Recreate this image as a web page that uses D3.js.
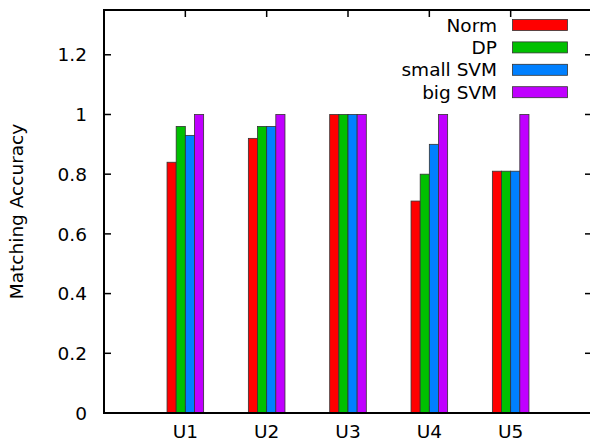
<!DOCTYPE html>
<html>
<head>
<meta charset="utf-8">
<script src="https://cdn.jsdelivr.net/npm/d3@7"></script>
<style>
  body { margin: 0; background: #fff; }
  text { font-family: "DejaVu Sans", sans-serif; font-size: 18.5px; fill: #000; }
</style>
</head>
<body>
<div id="chart"></div>
<script>
// chart data
const categories = ['U1', 'U2', 'U3', 'U4', 'U5'];
const seriesNames = ['Norm', 'DP', 'small SVM', 'big SVM'];
const seriesColors = ['#ff0000', '#00c000', '#0080ff', '#c000ff'];
const normValues = [0.84, 0.92, 1.0, 0.71, 0.81];
const dpValues = [0.96, 0.96, 1.0, 0.80, 0.81];
const smallSvmValues = [0.93, 0.96, 1.0, 0.90, 0.81];
const bigSvmValues = [1.0, 1.0, 1.0, 1.0, 1.0];
const yTicks = [0, 0.2, 0.4, 0.6, 0.8, 1, 1.2];

const series = [normValues, dpValues, smallSvmValues, bigSvmValues];

const width = 590, height = 445;
const plotLeft = 104, plotTop = 10, plotBottom = 413, plotRight = 592;

const svg = d3.select('#chart')
    .append('svg')
    .attr('width', width)
    .attr('height', height);

// categories sit at 1..5 on a 0..6 axis
const x = d3.scaleLinear().domain([0, 6]).range([plotLeft, plotRight]);
const y = d3.scaleLinear().domain([0, 1.35]).range([plotBottom, plotTop]);

const barW = 0.1125;
const tickLen = 7;

// ticks (all four sides, pointing inwards)
const tickG = svg.append('g').attr('stroke', '#000').attr('stroke-width', 1.5);
yTicks.forEach(t => {
    tickG.append('line').attr('x1', plotLeft).attr('x2', plotLeft + tickLen)
        .attr('y1', y(t)).attr('y2', y(t));
    tickG.append('line').attr('x1', plotRight - tickLen).attr('x2', plotRight)
        .attr('y1', y(t)).attr('y2', y(t));
});
categories.forEach((c, i) => {
    tickG.append('line').attr('x1', x(i + 1)).attr('x2', x(i + 1))
        .attr('y1', plotTop).attr('y2', plotTop + tickLen);
    tickG.append('line').attr('x1', x(i + 1)).attr('x2', x(i + 1))
        .attr('y1', plotBottom).attr('y2', plotBottom - tickLen);
});

// bars
series.forEach((vals, s) => {
    svg.append('g')
        .selectAll('rect')
        .data(vals)
        .enter()
        .append('rect')
        .attr('x', (d, i) => x(i + 1 + (s - 2) * barW))
        .attr('width', x(barW) - x(0))
        .attr('y', d => y(d))
        .attr('height', d => y(0) - y(d))
        .attr('fill', seriesColors[s])
        .attr('stroke', '#333')
        .attr('stroke-width', 0.8);
});

// frame
svg.append('path')
    .attr('d', `M${plotRight},${plotTop}H${plotLeft}V${plotBottom}H${plotRight}`)
    .attr('fill', 'none')
    .attr('stroke', '#000')
    .attr('stroke-width', 2);

// tick labels
svg.append('g')
    .selectAll('text')
    .data(yTicks)
    .enter()
    .append('text')
    .attr('x', 87)
    .attr('y', d => y(d))
    .attr('dy', '0.36em')
    .attr('text-anchor', 'end')
    .text(d => d3.format('~g')(d));

svg.append('g')
    .selectAll('text')
    .data(categories)
    .enter()
    .append('text')
    .attr('x', (d, i) => x(i + 1))
    .attr('y', 438)
    .attr('text-anchor', 'middle')
    .text(d => d);

// axis title
svg.append('text')
    .attr('transform', `translate(23,${(plotTop + plotBottom) / 2}) rotate(-90)`)
    .attr('text-anchor', 'middle')
    .text('Matching Accuracy');

// legend
const legend = svg.append('g');
seriesNames.forEach((name, i) => {
    const cy = 25 + i * 22.4;
    legend.append('text')
        .attr('x', 497)
        .attr('y', cy)
        .attr('dy', '0.36em')
        .attr('text-anchor', 'end')
        .text(name);
    legend.append('rect')
        .attr('x', 512.5)
        .attr('y', cy - 5.5)
        .attr('width', 55)
        .attr('height', 11)
        .attr('fill', seriesColors[i])
        .attr('stroke', '#333')
        .attr('stroke-width', 0.8);
});
</script>
</body>
</html>
